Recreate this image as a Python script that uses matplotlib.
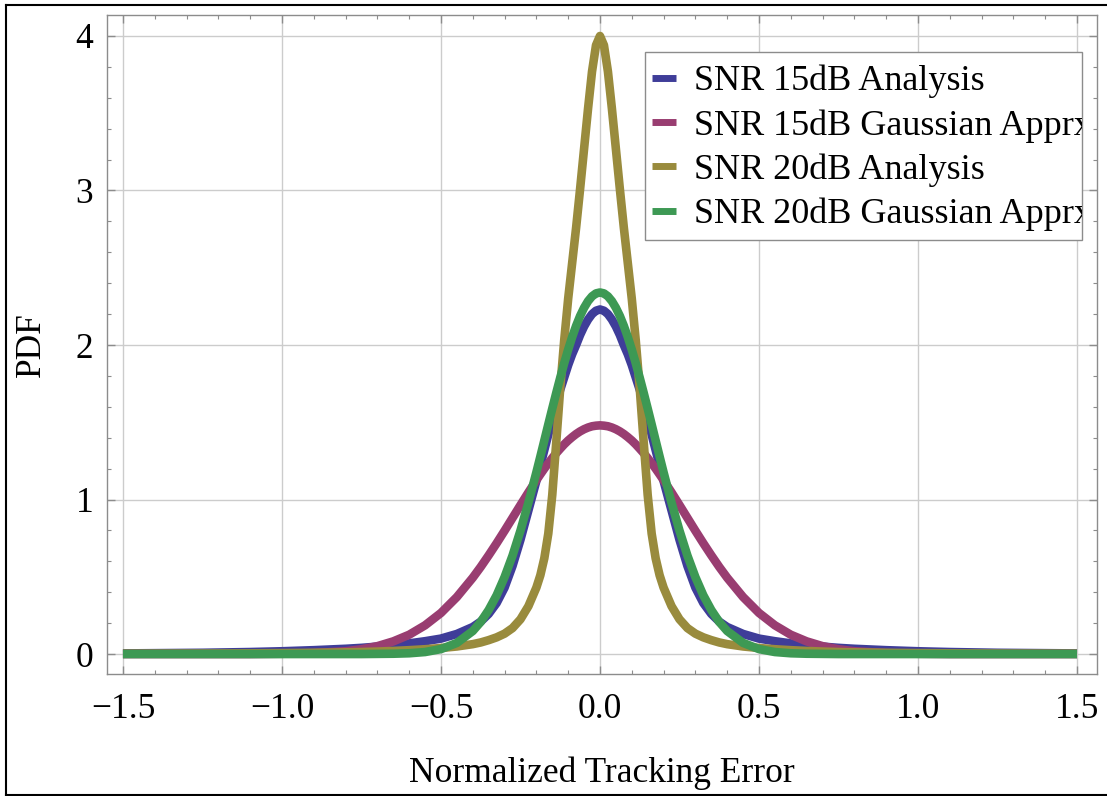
import numpy as np
import matplotlib.pyplot as plt
from matplotlib.ticker import MultipleLocator
from matplotlib.patches import Rectangle
from matplotlib.lines import Line2D

# half profile (curves are symmetric about 0)
x_half = [0, 0.0125, 0.025, 0.0375, 0.05, 0.0625, 0.075, 0.0875, 0.1, 0.1125, 0.125, 0.1375,
          0.15, 0.1625, 0.175, 0.1875, 0.2, 0.225, 0.25, 0.275, 0.3, 0.325, 0.35, 0.375, 0.4,
          0.45, 0.5, 0.55, 0.6, 0.65, 0.7, 0.75, 0.8, 0.9, 1.0, 1.1, 1.25, 1.5]
snr15_analysis = [2.23, 2.222, 2.20, 2.165, 2.12, 2.065, 2.00, 1.94, 1.87, 1.79, 1.71, 1.62,
                  1.52, 1.42, 1.32, 1.22, 1.12, 0.93, 0.74, 0.57, 0.43, 0.33, 0.26, 0.21, 0.175,
                  0.13, 0.10, 0.083, 0.069, 0.058, 0.048, 0.040, 0.034, 0.025, 0.018, 0.013, 0.008, 0.004]
snr15_gauss = [1.48, 1.478, 1.474, 1.466, 1.455, 1.441, 1.424, 1.404, 1.382, 1.357, 1.329, 1.300,
               1.268, 1.235, 1.200, 1.163, 1.125, 1.046, 0.964, 0.881, 0.798, 0.717, 0.639, 0.564, 0.494,
               0.369, 0.266, 0.186, 0.125, 0.082, 0.051, 0.031, 0.018, 0.006, 0.002, 0.0, 0.0, 0.0]
snr20_analysis = [4.00, 3.94, 3.77, 3.53, 3.27, 3.01, 2.76, 2.53, 2.30, 2.03, 1.72, 1.37,
                  1.03, 0.78, 0.62, 0.51, 0.43, 0.31, 0.225, 0.168, 0.132, 0.108, 0.090, 0.075, 0.064,
                  0.049, 0.039, 0.031, 0.025, 0.020, 0.016, 0.013, 0.011, 0.008, 0.006, 0.0045, 0.003, 0.002]
snr20_gauss = [2.34, 2.334, 2.315, 2.284, 2.241, 2.188, 2.124, 2.051, 1.970, 1.882, 1.788, 1.690,
               1.589, 1.486, 1.382, 1.278, 1.176, 0.980, 0.799, 0.637, 0.498, 0.380, 0.285, 0.208, 0.149,
               0.072, 0.032, 0.013, 0.005, 0.002, 0.001, 0.0, 0.0, 0.0, 0.0, 0.0, 0.0, 0.0]

labels = ["SNR 15dB Analysis", "SNR 15dB Gaussian Apprx", "SNR 20dB Analysis", "SNR 20dB Gaussian Apprx"]
colors = ["#3f3d99", "#993d71", "#998b3d", "#3d9954"]


def mirror(v):
    v = np.asarray(v, dtype=float)
    return np.concatenate([v[:0:-1], v])


x = np.concatenate([-np.asarray(x_half[:0:-1]), x_half])

plt.rcParams['font.family'] = ['Liberation Serif', 'DejaVu Serif']
plt.rcParams['font.size'] = 25.5

fig = plt.figure(figsize=(11.07, 7.96), dpi=100)
ax = fig.add_axes([0.0967, 0.1533, 0.8943, 0.8279])

for ys, lab, col in zip([snr15_analysis, snr15_gauss, snr20_analysis, snr20_gauss], labels, colors):
    ax.plot(x, mirror(ys), color=col, lw=6.2, label=lab, solid_capstyle='butt')

ax.set_xlim(-1.55, 1.563)
ax.set_ylim(-0.129, 4.136)
ax.xaxis.set_major_locator(MultipleLocator(0.5))
ax.xaxis.set_minor_locator(MultipleLocator(0.1))
ax.yaxis.set_major_locator(MultipleLocator(1))
ax.yaxis.set_minor_locator(MultipleLocator(0.2))
ax.grid(True, which='major', color='#cccccc', lw=1.0)
ax.set_axisbelow(True)
for s in ax.spines.values():
    s.set_color('#8c8c8c')
    s.set_linewidth(1.0)
ax.tick_params(which='both', direction='in', top=True, right=True, color='#8c8c8c')
ax.tick_params(which='major', length=5.5, width=1.0)
ax.tick_params(which='minor', length=3, width=0.8)
ax.tick_params(axis='x', pad=14)
ax.tick_params(axis='y', pad=10)

ax.set_xlabel("Normalized Tracking Error", labelpad=22)
ax.set_ylabel("PDF", labelpad=20)

# legend box, text clipped at its right edge like the original
box = Rectangle((0.5434, 0.6586), 0.4414, 0.2853, transform=ax.transAxes,
                facecolor='white', edgecolor='#8c8c8c', lw=1.0, zorder=4.5)
ax.add_patch(box)
leg = ax.legend(loc='upper left', bbox_to_anchor=(0.5505, 0.9244), frameon=False,
                fontsize=26, handlelength=0.65, handletextpad=0.5, labelspacing=0.3,
                borderpad=0, borderaxespad=0)
for h in leg.get_lines():
    h.set_linewidth(5)
for t in leg.get_texts():
    t.set_clip_path(box)

# screenshot border
for xs_, ys_ in [([0.0054, 0.0054], [0.0013, 0.9937]), ([0.0054, 1.0], [0.9937, 0.9937]),
                 ([0.0054, 1.0], [0.0013, 0.0013])]:
    fig.add_artist(Line2D(xs_, ys_, color='black', lw=1.5, transform=fig.transFigure))

fig.savefig("out.png", dpi=100)
